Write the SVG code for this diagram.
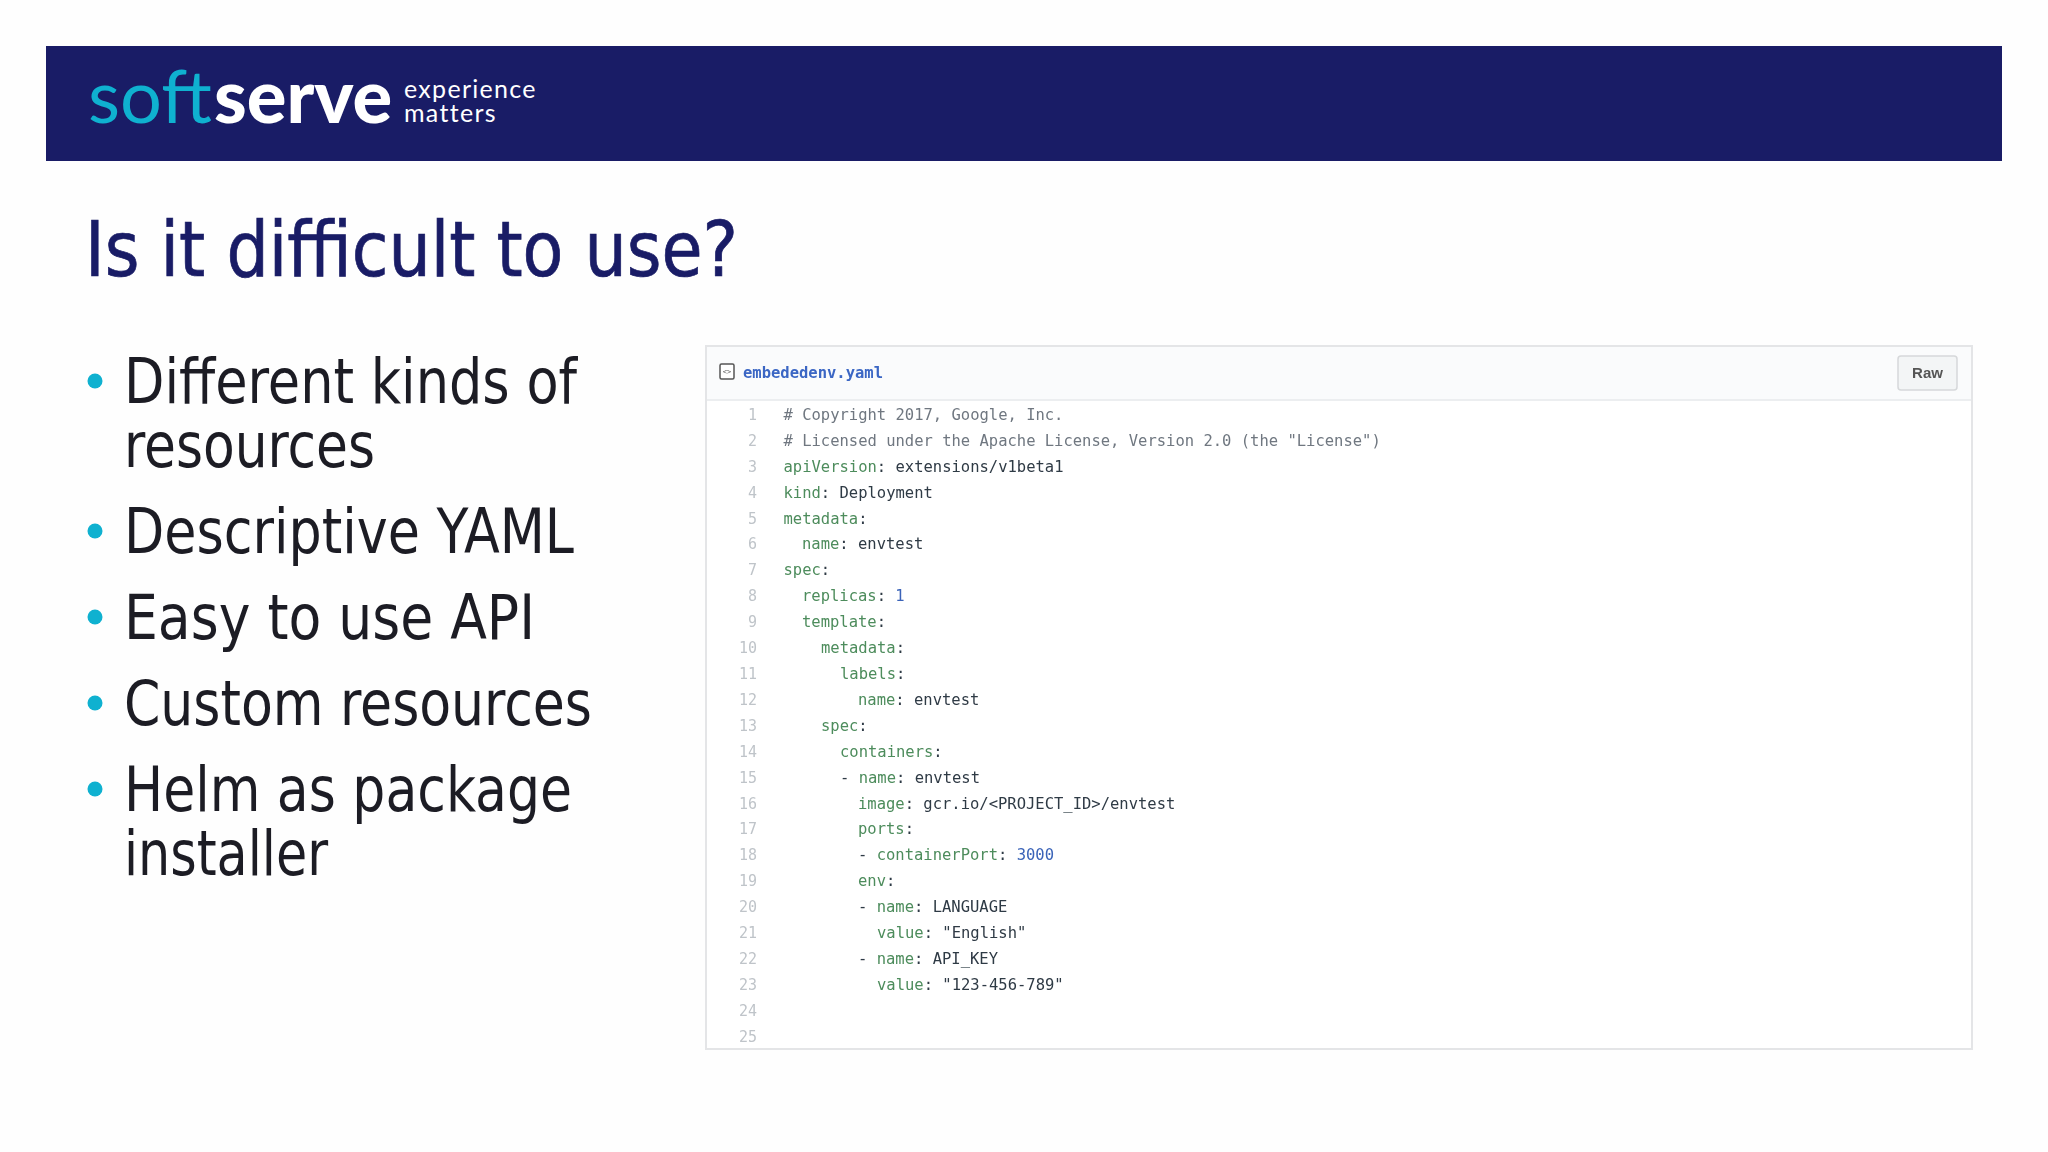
<svg xmlns="http://www.w3.org/2000/svg" width="2048" height="1152" viewBox="0 0 2048 1152">
<style>
.h{font-family:"DejaVu Sans Condensed","DejaVu Sans",sans-serif;fill:#191c66;font-size:76px;stroke:#191c66;stroke-width:.7px}
.b{font-family:"DejaVu Sans Condensed","DejaVu Sans",sans-serif;fill:#1c1c24;font-size:62px}
.c{font-family:"DejaVu Sans Mono","Liberation Mono",monospace;font-size:15.5px;fill:#2f3a45}
.n{font-family:"DejaVu Sans Mono","Liberation Mono",monospace;font-size:15px;fill:#bfc4c9;text-anchor:end}
.k{fill:#4d8c5c}.m{fill:#6f7780}.v{fill:#3a63b8}
.t{font-family:"Lato","Open Sans",sans-serif;fill:#fff;font-size:25px;letter-spacing:1.3px}
</style>
<defs><filter id="soft" x="-5%" y="-5%" width="110%" height="110%"><feGaussianBlur stdDeviation="0.45"/></filter></defs>
<rect width="2048" height="1152" fill="#fefefe"/>
<g id="banner">
<rect x="46" y="46" width="1956" height="115" fill="#191c66"/>
<text x="88" y="123" font-family="Lato,'Open Sans',sans-serif" font-size="74" fill="#0fb1d0" font-weight="400">soft</text>
<text x="214" y="123" font-family="Lato,'Open Sans',sans-serif" font-size="74" fill="#fff" font-weight="900">serve</text>
<text class="t" x="404" y="98">experience</text>
<text class="t" x="404" y="122">matters</text>
</g>
<text id="title" class="h" x="85" y="276" textLength="653" lengthAdjust="spacingAndGlyphs">Is it difficult to use?</text>
<g id="bullets">
<g fill="#0fb1d0"><circle cx="95" cy="381" r="7.5"/><circle cx="95" cy="531" r="7.5"/><circle cx="95" cy="617" r="7.5"/><circle cx="95" cy="703" r="7.5"/><circle cx="95" cy="789" r="7.5"/></g>
<text class="b" x="124" y="403" textLength="453" lengthAdjust="spacingAndGlyphs">Different kinds of</text>
<text class="b" x="124" y="467" textLength="251" lengthAdjust="spacingAndGlyphs">resources</text>
<text class="b" x="124" y="553" textLength="450" lengthAdjust="spacingAndGlyphs">Descriptive YAML</text>
<text class="b" x="124" y="639" textLength="411" lengthAdjust="spacingAndGlyphs">Easy to use API</text>
<text class="b" x="124" y="725" textLength="468" lengthAdjust="spacingAndGlyphs">Custom resources</text>
<text class="b" x="124" y="811" textLength="448" lengthAdjust="spacingAndGlyphs">Helm as package</text>
<text class="b" x="124" y="875" textLength="204" lengthAdjust="spacingAndGlyphs">installer</text>
</g>
<g id="code-panel" filter="url(#soft)">
<rect x="706" y="346" width="1266" height="703" fill="#fff" stroke="#e4e5e7" stroke-width="2"/>
<rect x="707" y="347" width="1264" height="53" fill="#fafbfc"/>
<line x1="707" y1="400" x2="1971" y2="400" stroke="#eceef0" stroke-width="2"/>
<rect x="720" y="364" width="14" height="15" rx="1.500" fill="#fff" stroke="#555" stroke-width="1.500"/>
<text x="727" y="374" font-family="'DejaVu Sans Mono',monospace" font-size="7" fill="#555" text-anchor="middle">&lt;&gt;</text>
<text x="743" y="378" font-family="'DejaVu Sans Mono',monospace" font-size="15.500" font-weight="700" fill="#3a66c4">embededenv.yaml</text>
<rect x="1898" y="356" width="59" height="34" rx="3" fill="#f3f5f6" stroke="#d6d8da" stroke-width="1.500"/>
<text x="1927.500" y="378" font-family="'Liberation Sans',sans-serif" font-size="15" font-weight="700" fill="#555" text-anchor="middle">Raw</text>
</g>
<g id="line-numbers" filter="url(#soft)">
<text class="n" x="757" y="420">1</text><text class="n" x="757" y="446">2</text><text class="n" x="757" y="472">3</text><text class="n" x="757" y="498">4</text><text class="n" x="757" y="524">5</text><text class="n" x="757" y="549">6</text><text class="n" x="757" y="575">7</text><text class="n" x="757" y="601">8</text><text class="n" x="757" y="627">9</text><text class="n" x="757" y="653">10</text><text class="n" x="757" y="679">11</text><text class="n" x="757" y="705">12</text><text class="n" x="757" y="731">13</text><text class="n" x="757" y="757">14</text><text class="n" x="757" y="783">15</text><text class="n" x="757" y="809">16</text><text class="n" x="757" y="834">17</text><text class="n" x="757" y="860">18</text><text class="n" x="757" y="886">19</text><text class="n" x="757" y="912">20</text><text class="n" x="757" y="938">21</text><text class="n" x="757" y="964">22</text><text class="n" x="757" y="990">23</text><text class="n" x="757" y="1016">24</text><text class="n" x="757" y="1042">25</text>
</g>
<g id="code" filter="url(#soft)">
<text class="c m" x="783.500" y="420"># Copyright 2017, Google, Inc.</text>
<text class="c m" x="783.500" y="446"># Licensed under the Apache License, Version 2.0 (the "License")</text>
<text class="c" x="783.500" y="472"><tspan class="k">apiVersion</tspan>: extensions/v1beta1</text>
<text class="c" x="783.500" y="498"><tspan class="k">kind</tspan>: Deployment</text>
<text class="c" x="783.500" y="524"><tspan class="k">metadata</tspan>:</text>
<text class="c" x="802" y="549"><tspan class="k">name</tspan>: envtest</text>
<text class="c" x="783.500" y="575"><tspan class="k">spec</tspan>:</text>
<text class="c" x="802" y="601"><tspan class="k">replicas</tspan>: <tspan class="v">1</tspan></text>
<text class="c" x="802" y="627"><tspan class="k">template</tspan>:</text>
<text class="c" x="821" y="653"><tspan class="k">metadata</tspan>:</text>
<text class="c" x="840" y="679"><tspan class="k">labels</tspan>:</text>
<text class="c" x="858" y="705"><tspan class="k">name</tspan>: envtest</text>
<text class="c" x="821" y="731"><tspan class="k">spec</tspan>:</text>
<text class="c" x="840" y="757"><tspan class="k">containers</tspan>:</text>
<text class="c" x="840" y="783">- <tspan class="k">name</tspan>: envtest</text>
<text class="c" x="858" y="809"><tspan class="k">image</tspan>: gcr.io/&lt;PROJECT_ID&gt;/envtest</text>
<text class="c" x="858" y="834"><tspan class="k">ports</tspan>:</text>
<text class="c" x="858" y="860">- <tspan class="k">containerPort</tspan>: <tspan class="v">3000</tspan></text>
<text class="c" x="858" y="886"><tspan class="k">env</tspan>:</text>
<text class="c" x="858" y="912">- <tspan class="k">name</tspan>: LANGUAGE</text>
<text class="c" x="877" y="938"><tspan class="k">value</tspan>: "English"</text>
<text class="c" x="858" y="964">- <tspan class="k">name</tspan>: API_KEY</text>
<text class="c" x="877" y="990"><tspan class="k">value</tspan>: "123-456-789"</text>
</g>
</svg>
